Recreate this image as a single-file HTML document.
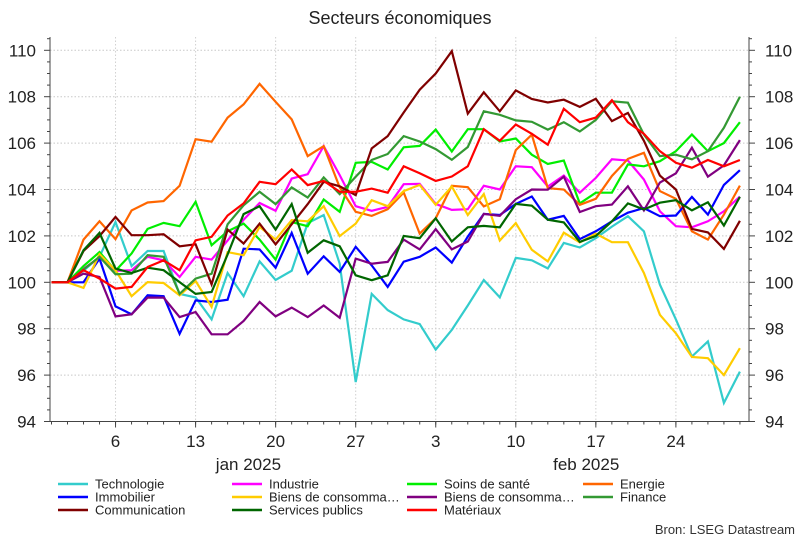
<!DOCTYPE html>
<html><head><meta charset="utf-8"><style>
body{margin:0;background:#fff;font-family:"Liberation Sans",sans-serif}
svg text{font-family:"Liberation Sans",sans-serif}
</style></head><body>
<svg id="chart" width="800" height="540" xmlns="http://www.w3.org/2000/svg">
<text x="400" y="24" font-size="18" text-anchor="middle" fill="#222">Secteurs économiques</text>
<g id="grid"></g><g id="axes"></g><g id="series"></g><g id="legend"></g>
<text x="795" y="534" font-size="13" text-anchor="end" fill="#333">Bron: LSEG Datastream</text>
</svg>
<script>
const dayLabels = ["6","13","20","27","3","10","17","24"];
const dayIndex = [4,9,14,19,24,29,34,39];
const monthLabels = ["jan 2025","feb 2025"];
const monthIndex = [12.3,33.4];
const yTicks = [94,96,98,100,102,104,106,108,110];
const seriesNames = ["Technologie","Industrie","Soins de santé","Energie","Immobilier","Biens de consomma…","Biens de consomma…","Finance","Communication","Services publics","Matériaux"];
const seriesColors = ["#33cccc","#ff00ff","#00ee00","#ff6600","#0000ff","#ffcc00","#800080","#339933","#800000","#006600","#ff0000"];
const technologie = [100,100,100.5,101.1,102.6,100.7,101.35,101.35,99.5,99.35,98.4,100.4,99.4,100.9,100.1,100.5,102.55,102.9,100.8,95.7,99.5,98.8,98.4,98.2,97.1,97.95,99.0,100.1,99.35,101.05,100.95,100.6,101.7,101.5,101.9,102.4,102.85,102.2,99.9,98.4,96.8,97.45,94.8,96.15];
const industrie = [100,100,100.58,101.06,100.49,100.52,101.1,100.95,100.23,101.1,100.98,101.8,102.7,103.42,103.08,104.47,104.66,105.87,104.62,103.28,103.08,103.25,104.23,104.24,103.38,103.12,103.15,104.16,104.0,105.0,104.96,104.13,104.6,103.86,104.5,105.3,105.25,104.43,103.06,102.42,102.37,102.63,103.06,103.7];
const soins = [100,100,100.7,101.3,100.5,101.24,102.3,102.56,102.42,103.47,101.6,102.2,102.53,101.84,100.98,102.6,102.42,103.57,103.04,105.15,105.19,104.86,105.82,105.88,106.58,105.64,106.6,106.6,106.07,106.2,105.5,105.1,105.25,103.4,103.86,103.86,105.08,105.0,105.22,105.65,106.37,105.65,106.0,106.9];
const energie = [100,100,101.84,102.63,101.86,103.1,103.44,103.5,104.16,106.17,106.06,107.1,107.67,108.55,107.78,107.02,105.44,105.87,104.09,103.04,102.86,103.15,103.87,102.1,102.76,104.16,104.1,103.27,103.58,105.7,106.36,104.06,104.0,103.34,103.6,104.58,105.32,105.58,103.93,103.6,102.2,101.84,102.92,104.17];
const immobilier = [100,100,100,101.02,98.96,98.62,99.44,99.4,97.78,99.22,99.15,99.25,101.45,101.42,100.63,102.13,100.37,101.12,100.45,101.53,100.73,99.8,100.89,101.1,101.5,100.85,101.97,102.95,102.9,103.38,103.7,102.7,102.86,101.86,102.2,102.63,103.0,103.2,102.85,102.88,103.68,102.92,104.2,104.83];
const biensJaune = [100,100,99.76,101.21,100.52,99.4,100.01,99.97,99.44,100.06,98.94,101.3,101.17,102.39,101.84,102.68,102.63,103.28,101.99,102.53,103.54,103.28,103.93,104.2,103.34,104.13,102.9,103.8,101.8,102.55,101.4,100.9,102.14,101.72,102.1,101.73,101.73,100.4,98.6,97.8,96.78,96.73,96.0,97.16];
const biensViolet = [100,100,100.37,100.23,98.53,98.62,99.34,99.34,98.5,98.72,97.76,97.76,98.33,99.15,98.53,98.91,98.5,99.0,98.47,101.02,100.8,100.88,101.84,101.42,102.29,101.42,101.76,102.95,102.86,103.58,104.0,103.99,104.55,103.03,103.28,103.35,104.14,103.1,104.3,104.7,105.8,104.55,105.04,106.13];
const finance = [100,100,100.55,101.1,100.35,100.37,101.17,101.1,99.5,100.16,100.37,102.5,103.32,103.9,103.37,104.09,103.65,104.52,103.8,104.55,105.27,105.53,106.3,106.07,105.74,105.28,105.83,107.37,107.22,106.98,106.92,106.58,106.9,106.5,107.0,107.8,107.74,106.37,105.44,105.5,105.3,105.65,106.66,108.0];
const communication = [100,100,101.35,101.99,102.82,102.03,102.03,102.07,101.55,101.64,99.91,102.27,101.67,102.53,101.64,102.5,103.37,104.33,104.14,103.76,105.77,106.3,107.32,108.3,109.0,109.96,107.27,108.19,107.37,108.27,107.9,107.75,107.87,107.56,107.91,106.95,107.3,106.1,104.6,104.0,102.3,102.15,101.44,102.65];
const services = [100,100,101.38,102.13,100.59,100.4,100.63,100.52,100.01,99.5,99.58,101.2,102.94,103.28,102.27,103.37,101.27,101.81,101.55,100.3,100.09,100.3,102.0,101.9,102.76,101.76,102.37,102.43,102.37,103.38,103.3,102.7,102.58,101.74,102.0,102.63,103.4,103.14,103.43,103.54,103.1,103.45,102.45,103.68];
const materiaux = [100,100,100.52,100.16,99.73,99.8,100.66,100.95,100.52,101.81,101.96,102.88,103.4,104.33,104.23,104.86,104.19,104.37,103.9,103.9,104.04,103.86,105.0,104.7,104.37,104.56,105.0,106.6,106.1,106.8,106.4,105.93,107.48,106.9,107.1,107.85,106.9,106.4,105.65,105.15,104.94,105.27,105.0,105.27];
const allSeries = [technologie,industrie,soins,energie,immobilier,biensJaune,biensViolet,finance,communication,services,materiaux];

const NS="http://www.w3.org/2000/svg";
const X0=51.5, STEP=16.01, L=50, R=749, T=37, B=421.5;
const xs = i => X0 + i*STEP;
const ys = v => 282.3 - (v-100)*23.2;
function mk(tag, attrs, parent){const e=document.createElementNS(NS,tag);for(const k in attrs)e.setAttribute(k,attrs[k]);parent.appendChild(e);return e;}
const grid=document.getElementById('grid'), axes=document.getElementById('axes'), ser=document.getElementById('series'), leg=document.getElementById('legend');

yTicks.forEach((v,i)=>{
  if(v>94){const g=mk('line',{x1:L,x2:R,y1:ys(v),y2:ys(v),stroke:'#c8c8c8','stroke-dasharray':'1.5,2','stroke-width':1},grid);
  
  }
  const t1=mk('text',{x:36,y:ys(v)+6,'font-size':17,'text-anchor':'end',fill:'#222'},axes);t1.textContent=v;
  
  
  const t2=mk('text',{x:765,y:ys(v)+6,'font-size':17,fill:'#222'},axes);t2.textContent=v;
  
  
  mk('line',{x1:L-6,x2:L,y1:ys(v),y2:ys(v),stroke:'#444'},axes);
  mk('line',{x1:R,x2:R+6,y1:ys(v),y2:ys(v),stroke:'#444'},axes);
});
for(let v=94;v<=110.5;v+=0.5){ if(v%2){mk('line',{x1:L-3,x2:L,y1:ys(v),y2:ys(v),stroke:'#444'},axes);mk('line',{x1:R,x2:R+3,y1:ys(v),y2:ys(v),stroke:'#444'},axes);} }
dayIndex.forEach((d,i)=>{
  const g=mk('line',{x1:xs(d),x2:xs(d),y1:T,y2:B,stroke:'#d0d0d0','stroke-dasharray':'1.5,2'},grid);
  
  
  mk('line',{x1:xs(d),x2:xs(d),y1:B,y2:B+6,stroke:'#444'},axes);
  const t=mk('text',{x:xs(d),y:447,'font-size':17,'text-anchor':'middle',fill:'#222'},axes);t.textContent=dayLabels[i];
  
  
});
for(let i=0;i<technologie.length;i++) mk('line',{x1:xs(i),x2:xs(i),y1:B,y2:B+3,stroke:'#444'},axes);
monthLabels.forEach((m,i)=>{const t=mk('text',{x:xs(monthIndex[i]),y:470,'font-size':17,'text-anchor':'middle',fill:'#222'},axes);t.textContent=m;
  
  });
const ax=mk('path',{d:`M${L},${T} V${B} H${R} V${T}`,fill:'none',stroke:'#444','stroke-width':1},axes);



allSeries.forEach((s,j)=>{
  const p=mk('polyline',{points:s.map((v,i)=>xs(i).toFixed(1)+','+ys(v).toFixed(1)).join(' '),fill:'none',stroke:seriesColors[j],'stroke-width':2.2,'stroke-linejoin':'miter'},ser);
  
  
});
const colX=[58,232,407,583], rowY=[484,497,510];
seriesNames.forEach((n,j)=>{
  const c=j%4, r=Math.floor(j/4);
  const g=mk('g',{},leg);
  
  
  mk('line',{x1:colX[c],x2:colX[c]+30,y1:rowY[r],y2:rowY[r],stroke:seriesColors[j],'stroke-width':2.5},g);
  const t=mk('text',{x:colX[c]+37,y:rowY[r]+4.5,'font-size':13,fill:'#222'},g);t.textContent=n;
});
</script>
</body></html>
